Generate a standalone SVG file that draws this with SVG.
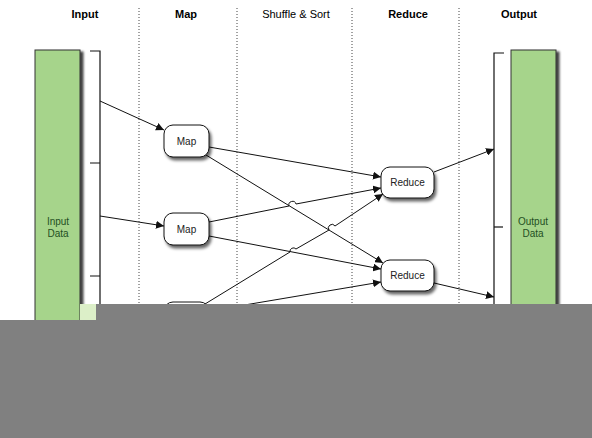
<svg xmlns="http://www.w3.org/2000/svg" width="592" height="438" viewBox="0 0 592 438">
<style>
.hdr{font-family:"Liberation Sans",Arial,sans-serif;font-size:11px;font-weight:bold;fill:#000;text-anchor:middle}
.hdrn{font-family:"Liberation Sans",Arial,sans-serif;font-size:11px;fill:#000;text-anchor:middle}
.lbl{font-family:"Liberation Sans",Arial,sans-serif;font-size:10px;fill:#222;text-anchor:middle}
.dlbl{font-family:"Liberation Sans",Arial,sans-serif;font-size:10px;fill:#1f4f1f;text-anchor:middle}
.lane{stroke:#444;stroke-width:1;stroke-dasharray:1,2;fill:none}
.box{fill:#fff;stroke:#111;stroke-width:1;filter:url(#sh)}
.bar{fill:#a6d48b;stroke:#333;stroke-width:1;filter:url(#shb)}
.br{fill:none;stroke:#111;stroke-width:1.2}
.con{fill:none;stroke:#111;stroke-width:1;marker-end:url(#ah)}
</style>
<defs>
<filter id="sh" x="-30%" y="-30%" width="160%" height="180%"><feDropShadow dx="2" dy="3" stdDeviation="1.8" flood-color="#000" flood-opacity="0.6"/></filter>
<filter id="shb" x="-30%" y="-10%" width="160%" height="120%"><feDropShadow dx="3" dy="2" stdDeviation="1.2" flood-color="#000" flood-opacity="0.75"/></filter>
<marker id="ah" viewBox="0 0 10 10" refX="10" refY="5" markerWidth="8" markerHeight="8" markerUnits="userSpaceOnUse" orient="auto"><path d="M0,0 L10,5 L0,10 z" fill="#111"/></marker>
</defs>
<rect width="592" height="438" fill="#fff"/>
<g id="lanes">
<line class="lane" x1="139" y1="8" x2="139" y2="304"/>
<line class="lane" x1="237" y1="8" x2="237" y2="304"/>
<line class="lane" x1="352" y1="8" x2="352" y2="304"/>
<line class="lane" x1="459" y1="8" x2="459" y2="304"/>
</g>
<g id="headers">
<text class="hdr" x="85" y="18">Input</text>
<text class="hdr" x="186" y="18">Map</text>
<text class="hdrn" x="296" y="18">Shuffle &amp; Sort</text>
<text class="hdr" x="408" y="18">Reduce</text>
<text class="hdr" x="519" y="18">Output</text>
</g>
<g id="input-data">
<rect class="bar" x="35" y="50" width="45" height="290"/>
<text class="dlbl" x="58" y="225">Input</text>
<text class="dlbl" x="58" y="237">Data</text>
<path class="br" d="M90,51 H100 V330"/>
<path class="br" d="M90,163 H100 M90,276 H100"/>
</g>
<g id="output-data">
<rect class="bar" x="511" y="50" width="45" height="290"/>
<text class="dlbl" x="533" y="225">Output</text>
<text class="dlbl" x="533" y="237">Data</text>
<path class="br" d="M504,53 H494 V330"/>
<path class="br" d="M494,227 H503"/>
</g>
<g id="connectors">
<line class="con" x1="100" y1="101" x2="164" y2="130"/>
<line class="con" x1="100" y1="216" x2="164" y2="226"/>
<line class="con" x1="209" y1="147" x2="381" y2="177"/>
<line class="con" x1="206" y1="155" x2="383" y2="263"/>
<path class="con" d="M209,222 L289,206 A3.5,3.5 0 0 1 296,204 L381,188"/>
<line class="con" x1="209" y1="236" x2="381" y2="269"/>
<path class="con" d="M205,304 L290,252 A3.5,3.5 0 0 1 296,249 L329,230 A3.5,3.5 0 0 1 335,226 L383,194"/>
<line class="con" x1="209" y1="311" x2="381" y2="282"/>
<line class="con" x1="434" y1="172" x2="494" y2="149"/>
<line class="con" x1="434" y1="283" x2="494" y2="297"/>
</g>
<g id="map1"><rect class="box" x="164" y="125" width="45" height="32" rx="9"/><text class="lbl" x="186.5" y="145">Map</text></g>
<g id="map2"><rect class="box" x="164" y="213" width="45" height="32" rx="9"/><text class="lbl" x="186.5" y="233">Map</text></g>
<g id="map3"><rect class="box" x="164" y="302" width="45" height="32" rx="9"/></g>
<g id="reduce1"><rect class="box" x="381" y="167" width="53" height="31" rx="9"/><text class="lbl" x="407.5" y="186">Reduce</text></g>
<g id="reduce2"><rect class="box" x="381" y="260" width="53" height="31" rx="9"/><text class="lbl" x="407.5" y="279">Reduce</text></g>
<g id="overlay">
<rect x="80" y="304" width="16" height="16" fill="#dcefc8"/>
<rect x="96" y="304" width="496" height="134" fill="#808080"/>
<rect x="0" y="320" width="592" height="118" fill="#808080"/>
</g>
</svg>
